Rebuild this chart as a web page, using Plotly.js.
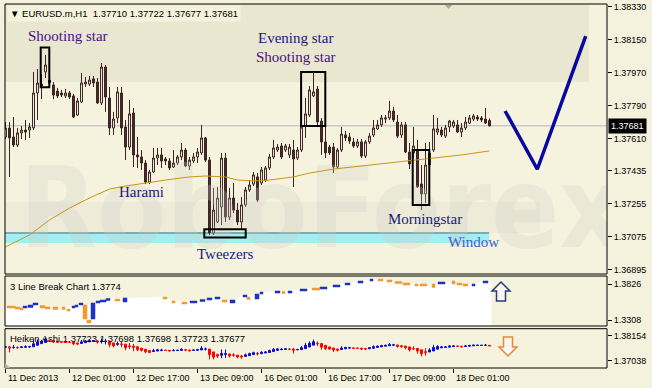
<!DOCTYPE html>
<html><head><meta charset="utf-8">
<script src="https://cdn.plot.ly/plotly-3.0.1.min.js"></script>
<style>html,body{margin:0;padding:0;background:#f4f2dc;} #chart{width:652px;height:388px;}</style>
</head><body><div id="chart"></div>
<script>
// ---------------- DATA ----------------
const symbolName = 'EURUSD.m,H1';
const lastBar = [1.37710, 1.37722, 1.37677, 1.37681];
const timeLabels = ['11 Dec 2013','12 Dec 01:00','12 Dec 17:00','13 Dec 09:00','16 Dec 01:00','16 Dec 17:00','17 Dec 09:00','18 Dec 01:00'];
const timeLabelBars = [0,16,32,48,64,80,96,112];
const priceTicks = [1.38330,1.38150,1.37970,1.37790,1.37610,1.37435,1.37255,1.37075,1.36895];

const openP = [1.37620,1.37669,1.37620,1.37576,1.37642,1.37658,1.37658,1.37669,1.37860,1.37909,
1.37975,1.37931,1.37904,1.37871,1.37860,1.37844,1.37860,1.37844,1.37740,1.37811,
1.37909,1.37909,1.37937,1.37920,1.37806,1.38002,1.37833,1.37669,1.37724,1.37860,
1.37675,1.37565,1.37751,1.37522,1.37511,1.37478,1.37374,1.37429,1.37505,1.37522,
1.37500,1.37489,1.37456,1.37478,1.37511,1.37549,1.37462,1.37489,1.37511,1.37533,
1.37615,1.37494,1.37096,1.37156,1.37238,1.37505,1.37183,1.37287,1.37221,1.37156,
1.37249,1.37331,1.37363,1.37402,1.37369,1.37385,1.37451,1.37511,1.37549,1.37571,
1.37549,1.37522,1.37549,1.37505,1.37549,1.37680,1.37740,1.37844,1.37882,1.37707,
1.37593,1.37565,1.37565,1.37456,1.37549,1.37631,1.37620,1.37593,1.37571,1.37593,
1.37516,1.37593,1.37631,1.37664,1.37686,1.37718,1.37724,1.37762,1.37702,1.37631,
1.37686,1.37538,1.37533,1.37549,1.37363,1.37309,1.37467,1.37549,1.37647,1.37658,
1.37625,1.37675,1.37680,1.37686,1.37647,1.37669,1.37696,1.37718,1.37729,1.37724,
1.37718,1.37710];
const highP = [1.37702,1.37702,1.37729,1.37669,1.37680,1.37713,1.37696,1.37975,1.37991,1.37964,
1.38068,1.37953,1.37920,1.37888,1.37877,1.37882,1.37871,1.37855,1.37833,1.37969,
1.37948,1.37953,1.37953,1.37942,1.38024,1.38013,1.37893,1.37757,1.37893,1.37893,
1.37713,1.37822,1.37778,1.37620,1.37549,1.37494,1.37440,1.37560,1.37560,1.37560,
1.37511,1.37505,1.37549,1.37522,1.37587,1.37560,1.37511,1.37533,1.37560,1.37686,
1.37620,1.37511,1.37342,1.37347,1.37533,1.37533,1.37342,1.37369,1.37260,1.37292,
1.37347,1.37385,1.37429,1.37423,1.37456,1.37462,1.37527,1.37604,1.37582,1.37587,
1.37582,1.37582,1.37604,1.37565,1.37686,1.37833,1.37898,1.37975,1.37898,1.37724,
1.37686,1.37576,1.37587,1.37560,1.37675,1.37653,1.37642,1.37615,1.37609,1.37609,
1.37604,1.37642,1.37713,1.37713,1.37740,1.37740,1.37817,1.37784,1.37740,1.37702,
1.37702,1.37587,1.37675,1.37604,1.37467,1.37587,1.37593,1.37740,1.37724,1.37675,
1.37686,1.37713,1.37713,1.37713,1.37696,1.37729,1.37740,1.37746,1.37740,1.37735,
1.37778,1.37722];
const lowP = [1.37609,1.37402,1.37565,1.37565,1.37609,1.37604,1.37615,1.37658,1.37713,1.37827,
1.37942,1.37888,1.37827,1.37833,1.37838,1.37833,1.37827,1.37724,1.37735,1.37806,
1.37893,1.37898,1.37893,1.37800,1.37795,1.37757,1.37631,1.37631,1.37696,1.37631,
1.37494,1.37549,1.37456,1.37451,1.37440,1.37363,1.37363,1.37423,1.37467,1.37451,
1.37467,1.37440,1.37451,1.37467,1.37494,1.37456,1.37440,1.37478,1.37478,1.37522,
1.37484,1.37085,1.37085,1.37150,1.37139,1.37156,1.37167,1.37205,1.37139,1.37112,
1.37238,1.37320,1.37352,1.37265,1.37358,1.37374,1.37440,1.37500,1.37538,1.37500,
1.37538,1.37505,1.37347,1.37494,1.37538,1.37615,1.37729,1.37838,1.37686,1.37522,
1.37505,1.37522,1.37423,1.37445,1.37538,1.37598,1.37582,1.37560,1.37560,1.37505,
1.37505,1.37582,1.37620,1.37658,1.37675,1.37696,1.37713,1.37702,1.37615,1.37615,
1.37533,1.37445,1.37505,1.37342,1.37221,1.37260,1.37451,1.37538,1.37631,1.37620,
1.37615,1.37647,1.37669,1.37642,1.37620,1.37658,1.37691,1.37707,1.37707,1.37702,
1.37691,1.37677];
const closeP = [1.37669,1.37615,1.37576,1.37642,1.37658,1.37647,1.37675,1.37860,1.37915,1.37898,
1.38013,1.37915,1.37849,1.37844,1.37849,1.37860,1.37838,1.37729,1.37817,1.37915,
1.37920,1.37931,1.37915,1.37806,1.38002,1.37838,1.37669,1.37718,1.37866,1.37669,
1.37565,1.37746,1.37522,1.37511,1.37478,1.37374,1.37429,1.37505,1.37522,1.37489,
1.37489,1.37451,1.37478,1.37511,1.37549,1.37462,1.37494,1.37511,1.37538,1.37615,
1.37494,1.37096,1.37221,1.37287,1.37505,1.37183,1.37287,1.37221,1.37156,1.37249,
1.37331,1.37358,1.37413,1.37276,1.37440,1.37451,1.37511,1.37560,1.37565,1.37511,
1.37571,1.37565,1.37500,1.37549,1.37675,1.37746,1.37877,1.37866,1.37702,1.37593,
1.37533,1.37533,1.37456,1.37549,1.37636,1.37615,1.37598,1.37571,1.37593,1.37516,
1.37593,1.37625,1.37669,1.37686,1.37724,1.37724,1.37762,1.37713,1.37625,1.37686,
1.37538,1.37473,1.37571,1.37347,1.37309,1.37467,1.37533,1.37664,1.37664,1.37631,
1.37669,1.37707,1.37702,1.37647,1.37669,1.37702,1.37724,1.37735,1.37718,1.37713,
1.37696,1.37681];

// moving average read at selected bars
const maBars = [0,6,11,16,21,26,30,35,40,46,50,55,58,62,66,72,76,82,89,93,101,107,114,121];
const maVals = [1.37020,1.37085,1.37167,1.37232,1.37287,1.37336,1.37352,1.37369,1.37385,1.37402,1.37407,1.37402,1.37385,1.37380,1.37385,1.37402,1.37423,1.37445,1.37462,1.37473,1.37494,1.37505,1.37522,1.37544];

// hand-drawn forecast (V)
const forecastBars = [124.9, 132.95, 145.05];
const forecastVals = [1.37762, 1.37444, 1.38171];

// 3 Line Break bricks: start bar, end bar, top, bottom, direction (1 up, -1 down)
const lbStart = [0.375,2.375,3.625,4.375,5.625,6.875,8.625,9.875,11.875,14.125,15.375,16.625,17.375,18.375,19.375,20.375,21.375,22.625,23.625,25.125,27.375,29.375,39.375,41.625,44.125,46.125,48.625,50.375,52.375,54.125,56.125,59.375,60.375,62.375,63.625,67.375,69.125,70.625,73.625,76.625,78.625,81.875,84.875,88.125,91.125,93.125,95.375,97.375,99.375,102.375,103.625,106.625,108.125,111.625,112.875,114.375,116.625,119.375];
const lbEnd   = [2.375,3.625,4.375,5.375,6.875,8.125,9.875,11.125,13.125,14.875,16.125,17.375,18.125,19.375,20.375,21.375,22.375,23.625,25.125,26.125,28.625,30.375,40.375,42.375,45.375,47.875,49.875,51.625,53.625,55.375,57.375,60.375,61.125,63.375,64.375,68.625,69.875,71.625,75.375,78.625,80.375,83.625,86.125,89.375,91.875,94.375,96.625,99.125,101.125,103.125,105.375,107.375,109.875,112.375,114.125,115.625,117.375,120.625];
const lbHi = [1.3509,1.3495,1.3481,1.3509,1.3524,1.3553,1.3516,1.3495,1.3495,1.3495,1.3466,1.3509,1.3524,1.3553,1.3524,1.3308,1.3553,1.3581,1.3596,1.3617,1.3610,1.3625,1.3639,1.3581,1.3567,1.3581,1.3603,1.3625,1.3639,1.3596,1.3596,1.3668,1.3639,1.3682,1.3711,1.3725,1.3718,1.3725,1.3754,1.3768,1.3783,1.3812,1.3840,1.3869,1.3898,1.3898,1.3884,1.3862,1.3840,1.3826,1.3826,1.3826,1.3855,1.3869,1.3840,1.3826,1.3826,1.3869];
const lbLo = [1.3481,1.3466,1.3452,1.3481,1.3488,1.3524,1.3481,1.3466,1.3459,1.3459,1.3437,1.3481,1.3495,1.3524,1.3322,1.3265,1.3322,1.3553,1.3567,1.3589,1.3581,1.3567,1.3610,1.3553,1.3538,1.3553,1.3574,1.3596,1.3610,1.3567,1.3553,1.3639,1.3603,1.3610,1.3682,1.3696,1.3689,1.3696,1.3725,1.3740,1.3754,1.3783,1.3812,1.3840,1.3869,1.3869,1.3855,1.3833,1.3812,1.3797,1.3797,1.3776,1.3826,1.3826,1.3812,1.3797,1.3797,1.3840];
const lbDir = [-1,-1,-1,1,1,1,-1,-1,-1,-1,-1,1,1,1,-1,-1,1,1,1,1,-1,1,-1,-1,-1,1,1,1,1,-1,1,1,-1,1,1,1,-1,1,1,-1,1,1,1,1,1,-1,-1,-1,-1,-1,-1,-1,1,-1,-1,-1,1,1];
const lbLast = 1.3774;
const haHeader = [1.37723,1.37698,1.37698,1.37723,1.37677];

// pattern labels & boxes (bar index, price)
const patternLabels = [
  {text:'Shooting star', bar:15.6, price:1.38171, color:'#4b0f8c'},
  {text:'Evening star', bar:72.6, price:1.38161, color:'#1a1a7a'},
  {text:'Shooting star', bar:72.6, price:1.38057, color:'#4b0f8c'},
  {text:'Harami', bar:33.9, price:1.37322, color:'#1a1a7a'},
  {text:'Tweezers', bar:54.9, price:1.36981, color:'#1a1a7a'},
  {text:'Morningstar', bar:104.9, price:1.37175, color:'#1a1a7a'},
  {text:'Window', bar:116.9, price:1.37047, color:'#3a62c8'}
];
const patternBoxes = [
  {b0:8.8, b1:10.95, p0:1.37891, p1:1.38109},
  {b0:73.9, b1:79.95, p0:1.37680, p1:1.37975},
  {b0:49.7, b1:60.05, p0:1.37072, p1:1.37116},
  {b0:101.8, b1:105.95, p0:1.37249, p1:1.37549}
];
const windowZone = {b0:-0.125, b1:120.9, p0:1.37041, p1:1.37096};

// ---------------- BUILD ----------------
const N = openP.length;
const bars = openP.map((_, i) => i);

// Heiken Ashi derived from the candles
const haO=[], haC=[], haH=[], haL=[];
for (let i=0;i<N;i++){
  const c=(openP[i]+highP[i]+lowP[i]+closeP[i])/4;
  const o= i===0 ? (openP[0]+closeP[0])/2 : (haO[i-1]+haC[i-1])/2;
  haO.push(o); haC.push(c); haH.push(Math.max(highP[i],o,c)); haL.push(Math.min(lowP[i],o,c));
}

// 3LB white area top
const fillX=[], fillY=[];
for (let k=0;k<lbStart.length;k++){
  const prev = k>0?lbHi[k-1]:lbHi[k], next = k<lbHi.length-1?lbHi[k+1]:lbHi[k];
  const top = Math.max(lbHi[k], Math.min(prev,next));
  if (k===0){ fillX.push(-0.5); fillY.push(top); }
  fillX.push(lbStart[k], lbEnd[k]); fillY.push(top, top);
}
fillX.push(N-0.5); fillY.push(lbHi[lbHi.length-1]);
// white area bottom edge (panel floor) to close polygon
const floorVal = 1.30;
fillX.push(N-0.5, -0.5); fillY.push(floorVal, floorVal);

// brick polygons
function brickPolys(dir){
  const xs=[], ys=[];
  for (let k=0;k<lbStart.length;k++){
    if (lbDir[k]!==dir) continue;
    xs.push(lbStart[k], lbEnd[k], lbEnd[k], lbStart[k], lbStart[k], null);
    ys.push(lbLo[k], lbLo[k], lbHi[k], lbHi[k], lbLo[k], null);
  }
  return {xs, ys};
}
const upB = brickPolys(1), dnB = brickPolys(-1);

const brown='#3c2424';
const traces = [
  {type:'scatter', mode:'text', x:[79.1], y:[1.37172], text:['RoboForex'], textposition:'middle center',
   textfont:{family:'Liberation Sans Narrow, DejaVu Sans Condensed, Liberation Sans', size:112, color:'rgba(205,205,200,0.28)', weight:'bold'},
   cliponaxis:true, hoverinfo:'skip', xaxis:'x', yaxis:'y'},
  {type:'scatter', mode:'lines', x:maBars, y:maVals, line:{color:'#c8961a', width:1}, hoverinfo:'skip', xaxis:'x', yaxis:'y'},
  {type:'candlestick', x:bars, open:openP, high:highP, low:lowP, close:closeP, xaxis:'x', yaxis:'y',
   increasing:{line:{color:brown,width:1}, fillcolor:'#f5f3dd'}, decreasing:{line:{color:brown,width:1}, fillcolor:'#4a2c2c'},
   whiskerwidth:0, hoverinfo:'skip'},
  {type:'scatter', mode:'lines', x:forecastBars, y:forecastVals, line:{color:'#0808a0', width:3.5}, hoverinfo:'skip', xaxis:'x', yaxis:'y'},
  {type:'scatter', mode:'lines', x:fillX, y:fillY, fill:'toself', fillcolor:'#ffffff', line:{width:0, color:'rgba(0,0,0,0)'}, hoverinfo:'skip', xaxis:'x', yaxis:'y2'},
  {type:'scatter', mode:'lines', x:upB.xs, y:upB.ys, fill:'toself', fillcolor:'#1e32c8', line:{width:0.5, color:'#1e32c8'}, connectgaps:false, hoverinfo:'skip', xaxis:'x', yaxis:'y2'},
  {type:'scatter', mode:'lines', x:dnB.xs, y:dnB.ys, fill:'toself', fillcolor:'#f29a2e', line:{width:0.5, color:'#f29a2e'}, connectgaps:false, hoverinfo:'skip', xaxis:'x', yaxis:'y2'},
  {type:'candlestick', x:bars, open:haO, high:haH, low:haL, close:haC, xaxis:'x', yaxis:'y3',
   increasing:{line:{color:'#0a0ad0',width:1}, fillcolor:'#0a0ad0'}, decreasing:{line:{color:'#ff0000',width:1}, fillcolor:'#ff0000'},
   whiskerwidth:0, hoverinfo:'skip'}
];

const fnt = 'Liberation Sans, Arial, sans-serif';
const shapes = [
  {type:'rect', xref:'paper', yref:'paper', x0:0, x1:0.970, y0:0.7857, y1:1, fillcolor:'#e9e7d0', line:{width:0}, layer:'below'},
  {type:'rect', xref:'paper', yref:'paper', x0:0, x1:0.8887, y0:0.3709, y1:0.456, fillcolor:'#eeecd9', line:{width:0}, layer:'below'},
  {type:'line', xref:'x', yref:'y', x0:-0.125, x1:150.375, y0:lastBar[3], y1:lastBar[3], line:{color:'#b4b4c6', width:1}, layer:'below'},
  {type:'rect', xref:'x', yref:'y', x0:windowZone.b0, x1:windowZone.b1, y0:windowZone.p0, y1:windowZone.p1, fillcolor:'#a3eef2', line:{width:0}, layer:'below'},
  {type:'line', xref:'x', yref:'y', x0:windowZone.b0, x1:windowZone.b1, y0:windowZone.p1, y1:windowZone.p1, line:{color:'#2f6f78', width:1}, layer:'below'},
  ...patternBoxes.map(b=>({type:'rect', xref:'x', yref:'y', x0:b.b0, x1:b.b1, y0:b.p0, y1:b.p1, line:{color:'#000', width:2}, fillcolor:'rgba(0,0,0,0)'})),
  {type:'rect', xref:'x domain', yref:'y domain', x0:0, x1:1, y0:0, y1:1, line:{color:'#000', width:1}},
  {type:'rect', xref:'x domain', yref:'y2 domain', x0:0, x1:1, y0:0, y1:1, line:{color:'#000', width:1}},
  {type:'rect', xref:'x domain', yref:'y3 domain', x0:0, x1:1, y0:0, y1:1, line:{color:'#000', width:1}},
  {type:'path', xref:'paper', yref:'paper', path:'M 0.7309,0.9973 L 0.7425,0.9973 L 0.7367,0.9863 Z', fillcolor:'#a8a8a0', line:{width:0}},
  {type:'path', xref:'paper', yref:'paper', path:'M 0,0 L 0,0.0137 L 0.0083,0 Z', fillcolor:'#b0b0b0', line:{width:0}},
  {type:'path', xref:'x', yref:'paper', path:'M 123.875,0.2363 L 126.125,0.2115 L 125,0.2115 L 125,0.1841 L 122.75,0.1841 L 122.75,0.2115 L 121.625,0.2115 Z', fillcolor:'#f8f8f0', line:{color:'#2b3a7a', width:1.5}},
  {type:'path', xref:'x', yref:'paper', path:'M 125.625,0.0330 L 127.875,0.0577 L 126.75,0.0577 L 126.75,0.0852 L 124.5,0.0852 L 124.5,0.0577 L 123.375,0.0577 Z', fillcolor:'#f8f8f0', line:{color:'#e8883a', width:1.5}}
];

const annotations = [
  {xref:'paper', yref:'paper', x:0, y:1, xanchor:'left', yanchor:'top', xshift:2, yshift:-1, showarrow:false, bgcolor:'#f5f3dd', borderpad:2,
   text:'\u25BC ' + symbolName + '\u00a0\u00a0' + lastBar.map(v=>v.toFixed(5)).join(' '), font:{family:fnt, size:9.5, color:'#000'}},
  {xref:'paper', yref:'y2 domain', x:0, y:1, xanchor:'left', yanchor:'top', xshift:3, yshift:-3, showarrow:false,
   text:'3 Line Break Chart ' + lbLast.toFixed(4), font:{family:fnt, size:9.5, color:'#000'}},
  {xref:'paper', yref:'y3 domain', x:0, y:1, xanchor:'left', yanchor:'top', xshift:3, yshift:-2, showarrow:false,
   text:'Heiken Ashi ' + haHeader.map(v=>v.toFixed(5)).join(' '), font:{family:fnt, size:9.5, color:'#000'}},
  {xref:'paper', yref:'y', x:1, y:lastBar[3], xanchor:'left', yanchor:'middle', xshift:1, showarrow:false, bgcolor:'#000', borderpad:2,
   text:lastBar[3].toFixed(5), font:{family:fnt, size:9, color:'#fff'}},
  ...timeLabels.map((t,k)=>({xref:'x', yref:'paper', x:timeLabelBars[k], y:0, xanchor:'left', yanchor:'top', yshift:-3, showarrow:false,
   text:t, font:{family:fnt, size:9, color:'#000'}})),
  ...patternLabels.map(p=>({xref:'x', yref:'y', x:p.bar, y:p.price, xanchor:'center', yanchor:'middle', showarrow:false,
   text:p.text, font:{family:'Liberation Serif, Times New Roman, serif', size:15, color:p.color}}))
];

const yax = (dom, rng, tv, dec) => ({domain:dom, range:rng, side:'right', anchor:'x', showgrid:false, zeroline:false,
  tickvals:tv, ticktext:tv.map(v=>v.toFixed(dec)), ticks:'outside', ticklen:4, tickcolor:'#000', tickwidth:1,
  tickfont:{family:fnt, size:9, color:'#000'}, showline:false, fixedrange:true});

const layout = {
  width:652, height:388, margin:{l:5, r:45, t:4, b:20, pad:0},
  paper_bgcolor:'#f4f2dc', plot_bgcolor:'#f5f3dd', showlegend:false, hovermode:false, dragmode:false,
  font:{family:fnt, size:9, color:'#000'},
  xaxis:{domain:[0,1], range:[-0.125,150.375], anchor:'y3', showgrid:false, zeroline:false, rangeslider:{visible:false},
    tickvals:timeLabelBars, ticks:'outside', ticklen:4, tickcolor:'#000', showticklabels:false, showline:false, fixedrange:true},
  yaxis: yax([0.2582,1], [1.36872,1.38346], priceTicks, 5),
  yaxis2: yax([0.1154,0.2527], [1.3222,1.3941], [1.3826,1.3308], 4),
  yaxis3: yax([0,0.108], [1.36700,1.38466], [1.38154,1.37038], 5),
  shapes:shapes, annotations:annotations
};

Plotly.newPlot('chart', traces, layout, {staticPlot:true, displayModeBar:false});
</script></body></html>
